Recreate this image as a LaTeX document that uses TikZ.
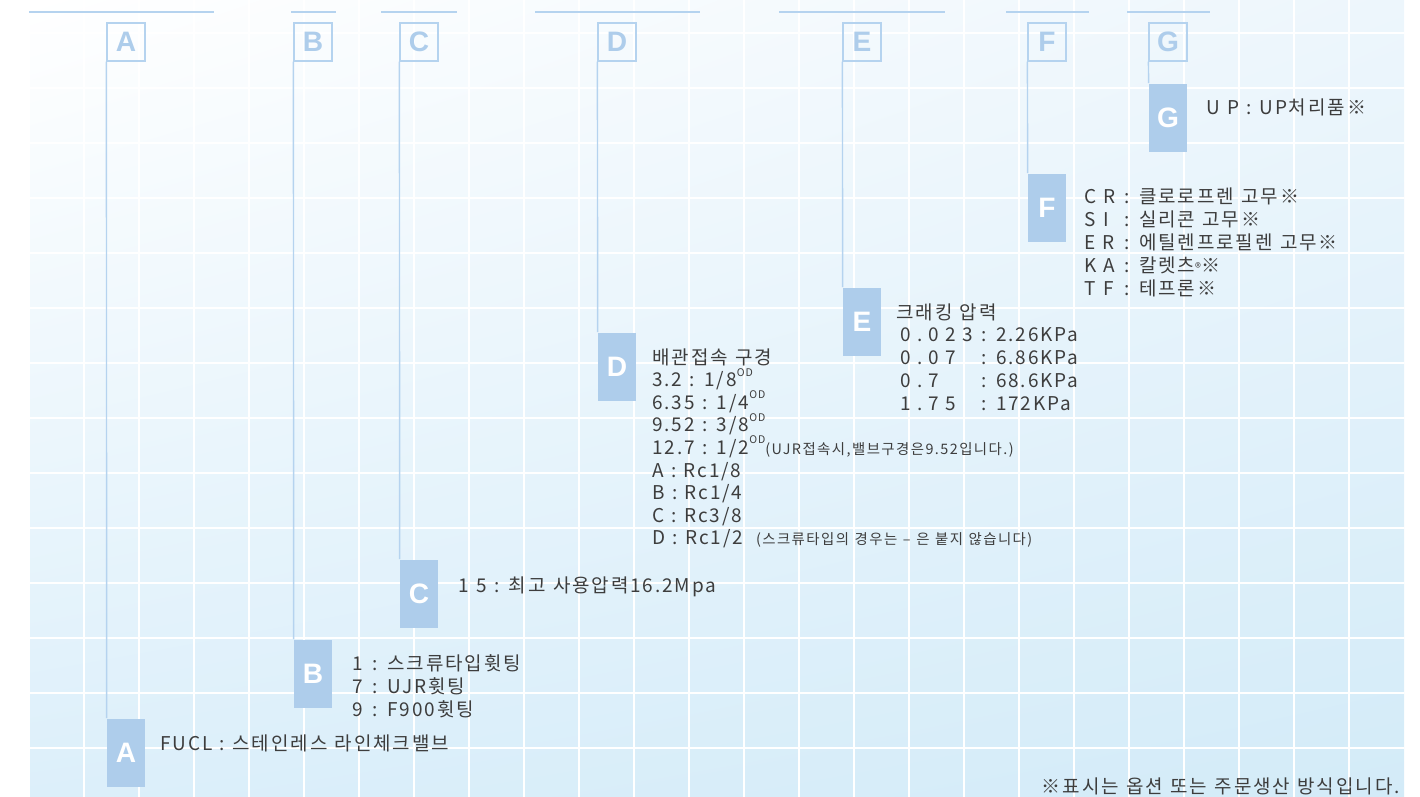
\documentclass[tikz,border=0pt]{standalone}
\usepackage{fontspec}
\usetikzlibrary{shadings}
\setmainfont[LetterSpace=10, WordSpace=1.2]{Noto Sans CJK KR}
\newfontfamily\keyfont{Liberation Sans}
\newfontfamily\widefont[LetterSpace=33]{Noto Sans CJK KR}
\definecolor{keyfill}{HTML}{AECDEB}
\definecolor{keyline}{HTML}{B5D3EF}
\definecolor{ink}{HTML}{3D3D3D}
\definecolor{bgUR}{HTML}{EDF6FC}
\definecolor{bgLL}{HTML}{DCEFFA}
\definecolor{bgLR}{HTML}{D3EBF8}
\newcommand\od{\raisebox{0.55em}{\fontsize{6}{6}\selectfont OD}}
\newcommand\dnote[1]{{\fontsize{8.2}{9}\selectfont #1}}

\begin{document}
\begin{tikzpicture}[x=0.02cm, y=-0.02cm,
hdbox/.style = {draw=keyline, line width=0.7pt,
     minimum width=0.76cm, minimum height=0.76cm, inner sep=0pt,
     text=keyfill, font=\keyfont\bfseries\fontsize{16}{16}\selectfont},
keybox/.style = {fill=keyfill,
     minimum width=0.76cm, minimum height=1.38cm, inner sep=0pt,
     text=white, font=\keyfont\bfseries\fontsize{16}{16}\selectfont},
lead/.style = {draw=keyline, line width=0.8pt},
txt/.style = {anchor=base west, inner sep=0pt, text=ink,
     font=\fontsize{10.8}{12}\selectfont}]

\useasboundingbox (0,0) rectangle (1420,797);
\shade[upper left=white, upper right=bgUR, lower left=bgLL, lower right=bgLR] (30,0) rectangle (1404,797);
\foreach \i in {0,...,23} {
      \draw[white, line width=1.1pt] (84+55*\i,0) -- (84+55*\i,797);
    }
\foreach \i in {0,...,13} {
      \draw[white, line width=1.1pt] (30,33+55*\i) -- (1404,33+55*\i);
    }
\foreach \a/\b in {29/214, 291/336, 381/457, 535/700, 779/945, 1006/1089, 1127/1210} {
      \draw[keyline, line width=0.8pt] (\a,12) -- (\b,12);
    }

% code letters
\foreach \k/\x/\y in {A/126/753, B/313/674, C/419/594, D/617/367, E/862/322, F/1047/208, G/1168/118} {
      \node [hdbox] (h\k) at (\x,42) {\k};
      \node [keybox] (b\k) at (\x,\y) {\k};
      \draw [lead] (h\k.south west) -- (b\k.north west);
    }

\node [txt] (tA) at (160,750) {FUCL : 스테인레스 라인체크밸브};
\foreach \t [count=\i from 0] in {{1\hspace{0.2cm}: 스크류타입휫팅}, {7\hspace{0.2cm}: UJR휫팅}, {9\hspace{0.2cm}: F900휫팅}} {
      \node [txt] (tB\i) at (352,670+23*\i) {\t};
    }
\node [txt] (tC) at (458,592) {1 5 : 최고 사용압력16.2Mpa};
\foreach \t [count=\i from 0] in {{배관접속 구경}, {3.2 : 1/8\od}, {6.35 : 1/4\od}, {9.52 : 3/8\od},
      {12.7 : 1/2\od\dnote{(UJR접속시,밸브구경은9.52입니다.)}},
      {A : Rc1/8}, {B : Rc1/4}, {C : Rc3/8},
      {D : Rc1/2\hspace{0.26cm}\dnote{(스크류타입의 경우는 – 은 붙지 않습니다)}}} {
      \node [txt] (tD\i) at (652,364+22.6*\i) {\t};
    }
\node [txt] (tE) at (896,319) {크래킹 압력};
\foreach \c/\v [count=\i] in {0.023/2.26KPa, 0.07/6.86KPa, 0.7/68.6KPa, 1.75/172KPa} {
      \node [txt] (eC\i) at (900,319+22.8*\i) {\widefont\c};
      \node [txt] (eV\i) at (981,319+22.8*\i) {: \v};
    }
\foreach \c/\v [count=\i from 0] in {C R/클로로프렌 고무※, S I/실리콘 고무※, E R/에틸렌프로필렌 고무※,
      K A/칼렛츠{\fontsize{7}{7}\selectfont ®}※, T F/테프론※} {
      \node [txt] (fC\i) at (1084,204+23*\i) {\c};
      \node [txt] (fV\i) at (1124,204+23*\i) {: \v};
    }
\node [txt] (tG) at (1206,115) {U P : UP처리품※};
\node [txt, anchor=base east] (note) at (1400,793) {※표시는 옵션 또는 주문생산 방식입니다.};

\end{tikzpicture}
\end{document}
